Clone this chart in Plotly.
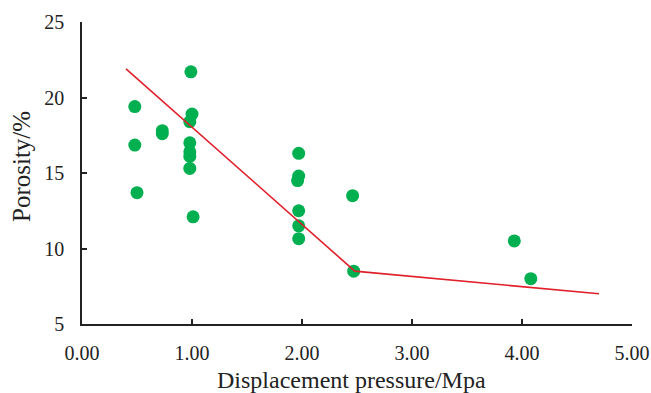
import plotly.graph_objects as go

pressure = [0.48, 0.48, 0.50, 0.73, 0.73, 0.99, 1.00, 0.98, 0.98, 0.98, 0.98, 0.98, 1.01,
            1.97, 1.97, 1.96, 1.97, 1.97, 1.97, 2.46, 2.47, 3.93, 4.08]
porosity = [19.4, 16.85, 13.7, 17.8, 17.6, 21.7, 18.9, 18.4, 17.0, 16.4, 16.1, 15.3, 12.1,
            16.3, 14.8, 14.5, 12.5, 11.5, 10.65, 13.5, 8.5, 10.5, 8.0]

fit_x = [0.40, 2.48, 4.70]
fit_y = [21.9, 8.5, 7.0]

x_ticks = [0, 1, 2, 3, 4, 5]
x_ticklabels = ["0.00", "1.00", "2.00", "3.00", "4.00", "5.00"]
y_ticks = [5, 10, 15, 20, 25]
x_title = "Displacement pressure/Mpa"
y_title = "Porosity/%"

fig = go.Figure()
fig.add_trace(go.Scatter(x=pressure, y=porosity, mode="markers",
                         marker=dict(color="#00B050", size=13, line=dict(width=0)),
                         showlegend=False, cliponaxis=False))
fig.add_trace(go.Scatter(x=fit_x, y=fit_y, mode="lines",
                         line=dict(color="#E0202A", width=1.6),
                         showlegend=False))

font = "Liberation Serif, Times New Roman, serif"
axis_common = dict(showgrid=False, zeroline=False, showline=True, linecolor="#222", linewidth=1.5,
                   ticks="inside", ticklen=5, tickcolor="#222", tickwidth=1.5,
                   tickfont=dict(family=font, size=20, color="#222"),
                   automargin=False)
fig.update_layout(
    width=651, height=393,
    margin=dict(l=82, r=19, t=22, b=69),
    plot_bgcolor="white", paper_bgcolor="white",
    font=dict(family=font, color="#222", size=20),
    xaxis=dict(range=[0, 5], tickvals=x_ticks, ticktext=x_ticklabels,
               ticklabelstandoff=10, **axis_common),
    yaxis=dict(range=[5, 25], tickvals=y_ticks, ticklabelstandoff=12, **axis_common),
    annotations=[
        dict(text=x_title, xref="paper", yref="paper", x=0.49, y=-0.185,
             xanchor="center", yanchor="middle", showarrow=False,
             font=dict(family=font, size=24, color="#222")),
        dict(text=y_title, xref="paper", yref="paper", x=-0.109, y=0.52,
             xanchor="center", yanchor="middle", showarrow=False, textangle=-90,
             font=dict(family=font, size=25, color="#222")),
    ],
)
# remove the page's default 8px body margin so the figure fills the window exactly
fig.write_html("out.html",
               config={"displayModeBar": False},
               post_script="document.body.style.margin='0';document.body.style.overflow='hidden';")
